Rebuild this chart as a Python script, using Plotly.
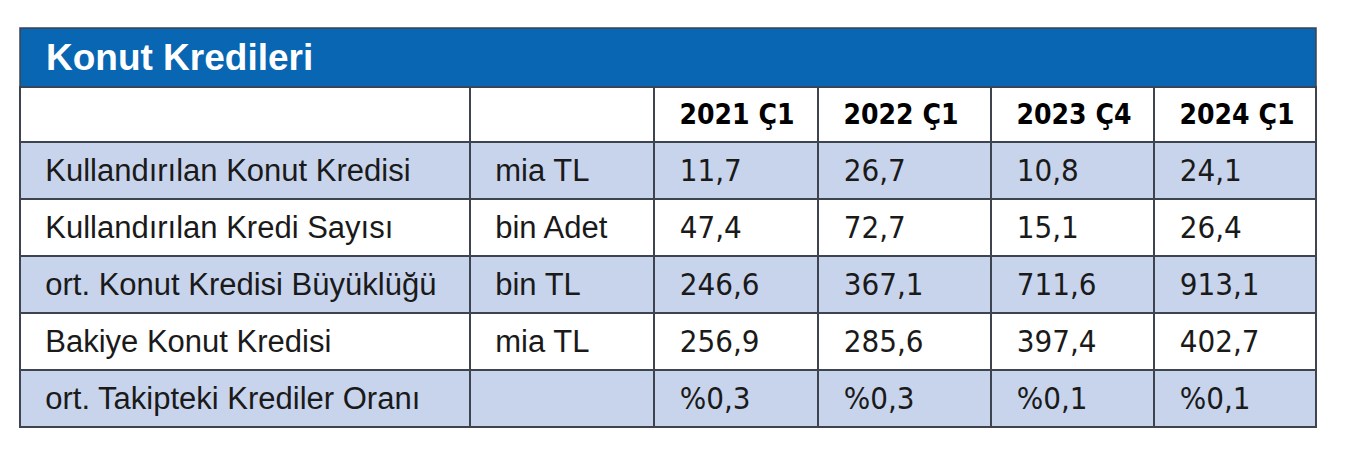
import plotly.graph_objects as go

title = "Konut Kredileri"
periods = ["2021 Ç1", "2022 Ç1", "2023 Ç4", "2024 Ç1"]
row_labels = ["Kullandırılan Konut Kredisi", "Kullandırılan Kredi Sayısı",
              "ort. Konut Kredisi Büyüklüğü", "Bakiye Konut Kredisi",
              "ort. Takipteki Krediler Oranı"]
units = ["mia TL", "bin Adet", "bin TL", "mia TL", ""]
q2021 = ["11,7", "47,4", "246,6", "256,9", "%0,3"]
q2022 = ["26,7", "72,7", "367,1", "285,6", "%0,3"]
q2023 = ["10,8", "15,1", "711,6", "397,4", "%0,1"]
q2024 = ["24,1", "26,4", "913,1", "402,7", "%0,1"]

W, H = 1353, 464
OFF = 8  # page body margin
x0, x1 = 20 - OFF, 1316 - OFF
title_top, title_bot, tbl_bot = 28 - OFF, 87 - OFF, 428 - OFF
col_edges = [20, 470, 654, 818, 991, 1154, 1316]
col_w = [col_edges[i + 1] - col_edges[i] for i in range(6)]
TXT_SHIFT = 8

blue = "#0866B2"
light = "#C8D4EC"
border = "#3E4350"
row_fill = [light if i % 2 == 0 else "white" for i in range(len(row_labels))]
cond = "DejaVu Sans Condensed, Liberation Sans Narrow, sans-serif"
sans = "Liberation Sans, Arial, sans-serif"
pad1 = "\u00a0"
pad2 = "\u00a0\u00a0"

fig = go.Figure()
# grid / fills
fig.add_trace(go.Table(
    domain=dict(x=[x0 / W, x1 / W], y=[1 - tbl_bot / H, 1 - title_bot / H]),
    columnwidth=col_w,
    header=dict(values=[""] * 6, fill_color="white",
                line=dict(color=border, width=1.5), height=55),
    cells=dict(values=[[""] * 5] * 6, fill_color=[row_fill] * 6,
               line=dict(color=border, width=1.5), height=57),
))
# text layer
fig.add_trace(go.Table(
    domain=dict(x=[x0 / W, x1 / W],
                y=[1 - (tbl_bot + TXT_SHIFT) / H, 1 - (title_bot + TXT_SHIFT) / H]),
    columnwidth=col_w,
    header=dict(
        values=["", ""] + periods,
        fill_color="rgba(0,0,0,0)",
        line=dict(color="rgba(0,0,0,0)", width=0),
        align="left", height=55,
        prefix=["", ""] + [pad1] * 4,
        font=dict(family=cond, size=28, color="black", weight="bold"),
    ),
    cells=dict(
        values=[row_labels, units, q2021, q2022, q2023, q2024],
        fill_color="rgba(0,0,0,0)",
        line=dict(color="rgba(0,0,0,0)", width=0),
        align="left", height=57,
        prefix=[pad1, pad1] + [pad2] * 4,
        font=dict(family=[sans, sans] + [cond] * 4,
                  size=[31, 31] + [31] * 4,
                  color="#1a1a1a"),
    ),
))

fig.add_shape(type="rect", xref="paper", yref="paper",
              x0=x0 / W, x1=x1 / W, y0=1 - title_bot / H, y1=1 - title_top / H,
              fillcolor=blue, line=dict(color=border, width=1.5), layer="above")
fig.add_annotation(text=title, xref="paper", yref="paper",
                   x=(47 - OFF - 3) / W, y=1 - (title_top + title_bot) / 2 / H,
                   xanchor="left", yanchor="middle", showarrow=False,
                   font=dict(family=sans, size=37, color="white", weight="bold"))

fig.update_layout(width=W, height=H, margin=dict(l=0, r=0, t=0, b=0),
                  paper_bgcolor="white", plot_bgcolor="white")
fig.write_html("out.html")
